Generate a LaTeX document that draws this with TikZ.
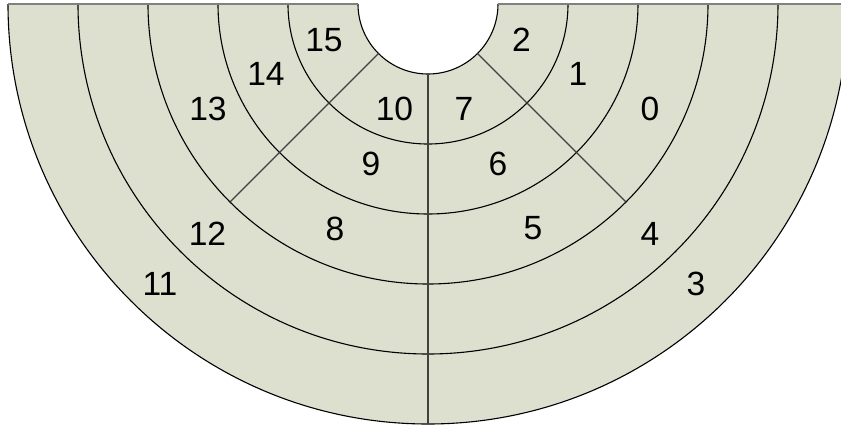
\documentclass[tikz,border=0pt]{standalone}
\usepackage{fontspec}
\setmainfont{Liberation Sans}
\definecolor{segfill}{RGB}{221,224,207}
\begin{document}
\begin{tikzpicture}[
  lab/.style={font=\fontsize{16.8}{20}\selectfont, inner sep=0pt, anchor=center},
  ringline/.style={draw=black, line width=0.55pt},
  spoke/.style={draw=black!75, line width=0.55pt},
  axisline/.style={draw=black!75, line width=0.9pt},
  topedge/.style={draw=black!50, line width=1pt}
]
\useasboundingbox (-214pt,-212.5pt) rectangle (206.5pt,2pt);
\clip (-214pt,-212.5pt) rectangle (206.5pt,2pt);
% filled half annulus
\fill[segfill] (-210pt,0) arc[start angle=180,end angle=360,radius=210pt]
  -- (35pt,0) arc[start angle=0,end angle=-180,radius=35pt] -- cycle;
% rings
\foreach \r in {35,70,105,140,175,210}
  \draw[ringline] ({-\r*1pt},0) arc[start angle=180,end angle=360,radius=\r*1pt];
% spokes
\coordinate (vin) at (0,-35pt);
\coordinate (vout) at (0,-210pt);
\coordinate (lin) at (225:35pt);
\coordinate (lout) at (225:140pt);
\coordinate (rin) at (315:35pt);
\coordinate (rout) at (315:140pt);
\draw[axisline] (vin) -- (vout);
\draw[spoke] (lin) -- (lout);
\draw[spoke] (rin) -- (rout);
% top edge
\coordinate (tl1) at (-210pt,0);
\coordinate (tl2) at (-35pt,0);
\coordinate (tr1) at (35pt,0);
\coordinate (tr2) at (215pt,0);
\draw[topedge] (tl1) -- (tl2);
\draw[topedge] (tr1) -- (tr2);
% labels
\node[lab] (n15) at (-52pt,-18pt) {15};
\node[lab] (n14) at (-81pt,-34.75pt) {14};
\node[lab] (n13) at (-110pt,-52.25pt) {13};
\node[lab] (n2) at (46.75pt,-18pt) {2};
\node[lab] (n1) at (75pt,-34.75pt) {1};
\node[lab] (n0) at (111pt,-52.25pt) {0};
\node[lab] (n10) at (-16.75pt,-52.25pt) {10};
\node[lab] (n7) at (18pt,-52.25pt) {7};
\node[lab] (n9) at (-28.5pt,-79.75pt) {9};
\node[lab] (n6) at (35pt,-79.75pt) {6};
\node[lab] (n8) at (-46.5pt,-112.25pt) {8};
\node[lab] (n5) at (52.5pt,-112.25pt) {5};
\node[lab] (n12) at (-110.25pt,-114.75pt) {12};
\node[lab] (n4) at (111pt,-114.75pt) {4};
\node[lab] (n11) at (-134pt,-139.75pt) {11};
\node[lab] (n3) at (134pt,-139.75pt) {3};
\end{tikzpicture}
\end{document}
